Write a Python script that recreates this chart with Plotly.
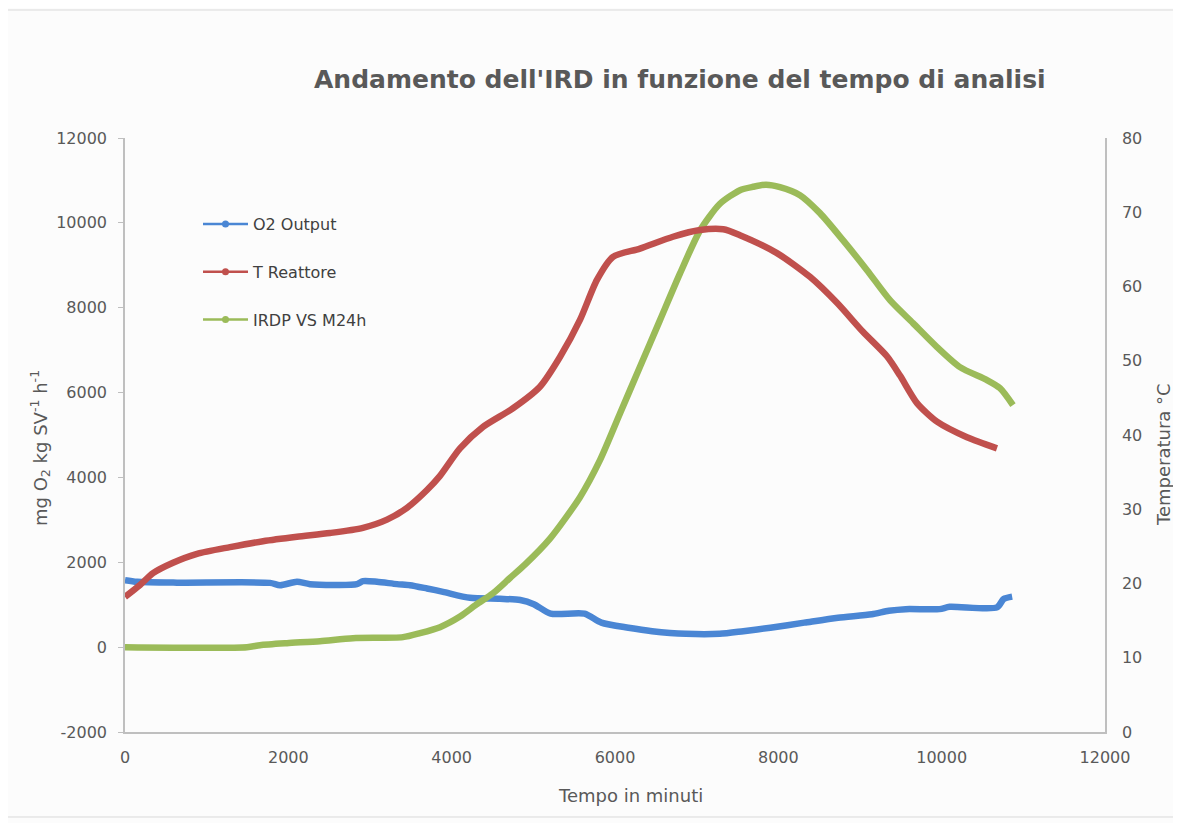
import plotly.graph_objects as go

# ---- data ----
o2_minutes = [0, 147, 637, 1775, 1898, 2106, 2265, 2841, 2914, 3086, 3330, 3490, 3698, 3894,
              4224, 4592, 4840, 5006, 5212, 5626, 5833, 6165, 6454, 6868, 7282, 7572, 7903,
              8318, 8731, 9145, 9352, 9559, 9973, 10097, 10677, 10759, 10863]
o2_output = [1580, 1540, 1520, 1515, 1460, 1540, 1485, 1485, 1555, 1540, 1485, 1460, 1383, 1304,
             1162, 1140, 1110, 1013, 790, 790, 577, 457, 377, 313, 313, 377, 457,
             577, 695, 775, 856, 896, 896, 950, 936, 1134, 1190]

t_minutes = [0, 184, 343, 588, 882, 1286, 1690, 2106, 2510, 2914, 3208, 3453, 3698, 3857,
             4102, 4384, 4751, 5081, 5326, 5571, 5779, 5976, 6306, 6710, 7041,
             7326, 7530, 7983, 8387, 8718, 9036, 9330, 9490, 9698, 9943, 10310, 10677]
t_reattore = [18.2, 19.8, 21.4, 22.8, 24.0, 24.9, 25.7, 26.3, 26.8, 27.5, 28.6, 30.2, 32.6, 34.5,
              38.2, 41.1, 43.6, 46.5, 50.5, 55.5, 60.9, 64.0, 65.1, 66.7, 67.6,
              67.7, 66.9, 64.5, 61.3, 57.8, 53.9, 50.6, 48.0, 44.3, 41.8, 39.7, 38.2]

irdp_minutes = [0, 1494, 1653, 1983, 2388, 2792, 3404, 3612, 3857, 4102, 4300, 4506, 4714, 4900,
                5204, 5571, 5816, 6061, 6306, 6551, 6796, 7041, 7285, 7530, 7690, 7850,
                8020, 8265, 8510, 8791, 9086, 9367, 9649, 9943, 10224, 10555, 10714, 10873]
irdp_vs_m24h = [0, 0, 47, 94, 141, 212, 236, 330, 471, 720, 1000, 1270, 1630, 1950,
                2557, 3535, 4407, 5507, 6607, 7707, 8808, 9820, 10450, 10770, 10850, 10900,
                10842, 10653, 10229, 9592, 8885, 8178, 7636, 7071, 6599, 6293, 6104, 5704]

series_names = ["O2 Output", "T Reattore", "IRDP VS M24h"]
series_colors = ["#4a86d4", "#c0504d", "#9bbb59"]

x_ticks = [0, 2000, 4000, 6000, 8000, 10000, 12000]
y_left_ticks = [-2000, 0, 2000, 4000, 6000, 8000, 10000, 12000]
y_right_ticks = [0, 10, 20, 30, 40, 50, 60, 70, 80]

FONT = "DejaVu Sans"
GREY = "#595959"

# plot area in page pixels: left 125, right 1105, top 138, bottom 732 (page has 8px body margin)
W, H = 1173, 815
PL, PR, PT, PB = 125, 1105, 138, 732
PW, PH = PR - PL, PB - PT


def px(x):
    return (x - PL) / PW


def py(y):
    return (PB - y) / PH


fig = go.Figure()
data = [(o2_minutes, o2_output, "y"), (t_minutes, t_reattore, "y2"), (irdp_minutes, irdp_vs_m24h, "y")]
for i, (xs, ys, ax) in enumerate(data):
    fig.add_trace(go.Scatter(
        x=xs, y=ys, yaxis=ax, name=series_names[i], mode="lines",
        line=dict(color=series_colors[i], width=6.5, shape="spline", smoothing=0.7),
        showlegend=False,
    ))
# legend entries (line with dot marker)
for i in range(3):
    fig.add_trace(go.Scatter(
        x=[None], y=[None], name=series_names[i], mode="lines+markers",
        line=dict(color=series_colors[i], width=2.5),
        marker=dict(color=series_colors[i], size=7),
        legendgroup=series_names[i], showlegend=True,
    ))

fig.update_layout(
    width=W, height=H,
    margin=dict(l=PL - 8, r=8 + W - PR, t=PT - 8, b=8 + H - PB),
    paper_bgcolor="#fcfcfc", plot_bgcolor="#fcfcfc",
    font=dict(family=FONT, color=GREY, size=16),
    showlegend=True,
    legend=dict(x=px(198), y=py(207), xanchor="left", yanchor="top",
                bgcolor="rgba(0,0,0,0)", font=dict(size=16, color="#404040"),
                tracegroupgap=24, itemwidth=45),
    xaxis=dict(range=[0, 12000], tickvals=x_ticks, ticktext=[str(v) for v in x_ticks],
               showgrid=False, zeroline=False, showline=True, linecolor="#bfbfbf", linewidth=1.5,
               ticks="", tickfont=dict(size=16, color=GREY), ticklabelstandoff=10),
    yaxis=dict(range=[-2000, 12000], tickvals=y_left_ticks, ticktext=[str(v) for v in y_left_ticks],
               showgrid=False, zeroline=False, showline=True, linecolor="#bfbfbf", linewidth=1.5,
               ticks="outside", ticklen=5, tickcolor="#bfbfbf", tickfont=dict(size=16, color=GREY),
               ticklabelstandoff=8),
    yaxis2=dict(range=[0, 80], tickvals=y_right_ticks, ticktext=[str(v) for v in y_right_ticks],
                overlaying="y", side="right",
                showgrid=False, zeroline=False, showline=True, linecolor="#bfbfbf", linewidth=1.5,
                ticks="", tickfont=dict(size=16, color=GREY), ticklabelstandoff=12),
)

fig.add_annotation(text="Andamento dell'IRD in funzione del tempo di analisi",
                   xref="paper", yref="paper", x=px(680), y=py(80),
                   xanchor="center", yanchor="middle", showarrow=False,
                   font=dict(family=FONT, size=25, color=GREY, weight="bold"))
fig.add_annotation(text="mg O<sub>2</sub> kg SV<sup>-1</sup> h<sup>-1</sup>",
                   xref="paper", yref="paper", x=px(40), y=py(448),
                   xanchor="center", yanchor="middle", showarrow=False, textangle=-90,
                   font=dict(family=FONT, size=18, color=GREY))
fig.add_annotation(text="Temperatura °C",
                   xref="paper", yref="paper", x=px(1163), y=py(455),
                   xanchor="center", yanchor="middle", showarrow=False, textangle=-90,
                   font=dict(family=FONT, size=18, color=GREY))
fig.add_annotation(text="Tempo in minuti",
                   xref="paper", yref="paper", x=px(630), y=py(795),
                   xanchor="center", yanchor="middle", showarrow=False,
                   font=dict(family=FONT, size=18, color=GREY))

# outer chart border
fig.add_shape(type="rect", xref="paper", yref="paper",
              x0=px(7), x1=px(1200), y0=py(817), y1=py(10),
              line=dict(color="#d9d9d9", width=1), fillcolor="rgba(0,0,0,0)", layer="below")

fig.write_html("out.html")
